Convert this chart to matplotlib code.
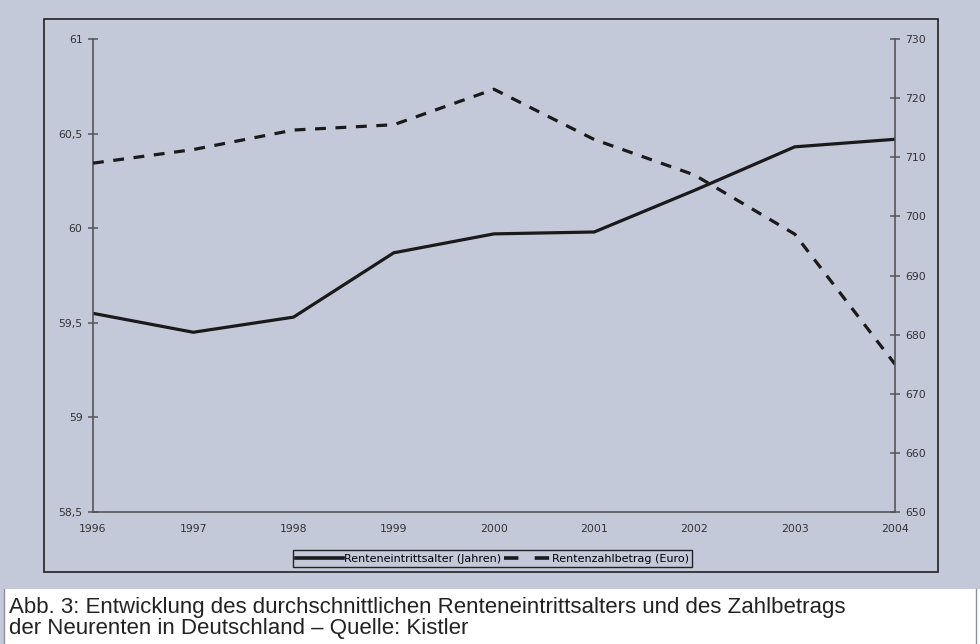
import matplotlib
matplotlib.use('Agg')
import matplotlib.pyplot as plt
from matplotlib.patches import Rectangle
from matplotlib.lines import Line2D

years = [1996, 1997, 1998, 1999, 2000, 2001, 2002, 2003, 2004]
alter = [59.55, 59.45, 59.53, 59.87, 59.97, 59.98, 60.20, 60.43, 60.47]
betrag = [709, 711.3, 714.6, 715.5, 721.5, 713, 707, 697, 675]

left_ticks = [58.5, 59, 59.5, 60, 60.5, 61]
left_labels = ['58,5', '59', '59,5', '60', '60,5', '61']
right_ticks = [650, 660, 670, 680, 690, 700, 710, 720, 730]

label_alter = 'Renteneintrittsalter (Jahren)'
label_betrag = 'Rentenzahlbetrag (Euro)'
caption = ('Abb. 3: Entwicklung des durchschnittlichen Renteneintrittsalters und des Zahlbetrags\n'
           'der Neurenten in Deutschland \u2013 Quelle: Kistler')

bg = '#c4c9d9'
W, H = 980, 644

fig = plt.figure(figsize=(W / 100, H / 100), dpi=100, facecolor=bg)

# white caption area
fig.patches.append(Rectangle((4 / W, 0), 1, (H - 589) / H, transform=fig.transFigure,
                             facecolor='white', edgecolor='none', zorder=0))
fig.add_artist(Line2D([4 / W, 4 / W], [0, (H - 589) / H], color='#8a90a8', lw=1))
fig.add_artist(Line2D([976 / W, 976 / W], [0, (H - 589) / H], color='#8a90a8', lw=1))

# outer chart frame
fig.patches.append(Rectangle((44 / W, (H - 572) / H), (938 - 44) / W, (572 - 19) / H,
                             transform=fig.transFigure, fill=False, edgecolor='#222222', lw=1.2))

ax = fig.add_axes([93 / W, (H - 512) / H, (895 - 93) / W, (512 - 39) / H])
ax.set_facecolor(bg)
ax.plot(years, alter, color='#1a1a1a', lw=2.3, solid_joinstyle='round')
ax.set_xlim(1996, 2004)
ax.set_ylim(58.5, 61)
ax.set_yticks(left_ticks)
ax.set_yticklabels(left_labels)
ax.set_xticks(years)

ax2 = ax.twinx()
ax2.plot(years, betrag, color='#1a1a1a', lw=2.3, dashes=(3.4, 3.0))
ax2.set_ylim(650, 730)
ax2.set_yticks(right_ticks)

for a in (ax, ax2):
    a.spines['top'].set_visible(False)
    for s in a.spines.values():
        s.set_color('#555555')
        s.set_linewidth(1.2)
ax.spines['right'].set_visible(False)
ax2.spines['left'].set_visible(False)
ax2.spines['bottom'].set_visible(False)

ax.tick_params(axis='y', direction='inout', length=7, width=1.1, color='#555555',
               labelsize=7.8, labelcolor='#333333', pad=4)
ax2.tick_params(axis='y', direction='inout', length=7, width=1.1, color='#555555',
                labelsize=7.8, labelcolor='#333333', pad=4)
ax.tick_params(axis='x', length=0, labelsize=7.8, labelcolor='#333333', pad=9)

handles = [Line2D([], [], color='#1a1a1a', lw=2.6),
           Line2D([], [], color='#1a1a1a', lw=2.6, dashes=(4, 4.5))]
fig.legend(handles, [label_alter, label_betrag], loc='center', ncol=2,
           bbox_to_anchor=(492.5 / W, (H - 558.5) / H), frameon=True, fancybox=False,
           edgecolor='#222222', facecolor=bg, framealpha=1, fontsize=8,
           handlelength=4.2, handletextpad=0.1, columnspacing=0.3, borderpad=0.3,
           borderaxespad=0)

fig.text(9 / W, (H - 597) / H, caption, ha='left', va='top', fontsize=16,
         family='Liberation Sans', color='#222222', linespacing=1.03)

fig.savefig('out.png', dpi=100, facecolor=bg)
